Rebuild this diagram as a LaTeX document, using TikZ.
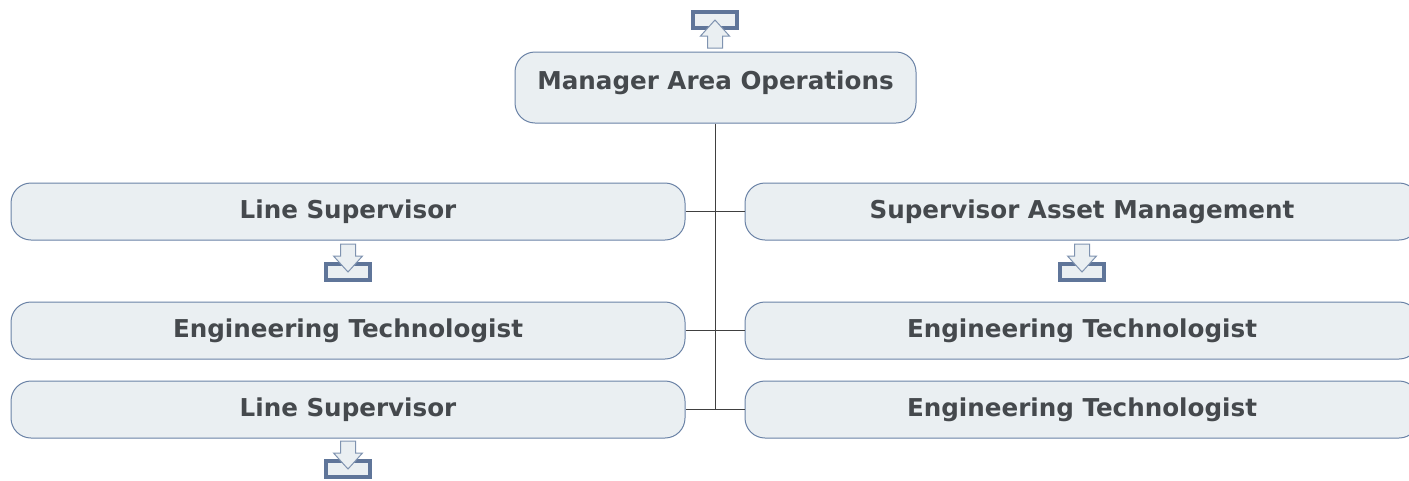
\documentclass[tikz,border=0pt]{standalone}
\usepackage{fontspec}
\setmainfont{DejaVu Sans}
\usepackage{tikz}
\usetikzlibrary{positioning}

\definecolor{boxfill}{HTML}{EAEFF2}
\definecolor{boxline}{HTML}{6A82A6}
\definecolor{txtgrey}{HTML}{45494D}
\definecolor{trayline}{HTML}{5F7599}
\definecolor{arrline}{HTML}{7F93B0}

\tikzset{
  orgbox/.style={draw=boxline, fill=boxfill, line width=1pt, rounded corners=20pt,
                 minimum width=674pt, minimum height=57pt, inner sep=0pt,
                 text=txtgrey, font=\fontsize{24.6}{28}\selectfont\bfseries},
  link/.style={draw=black!75, line width=1pt},
  trayicon/.pic={
    \draw[trayline, fill=boxfill, line width=4pt] (-22,2) rectangle (22,18);
    \draw[arrline, fill=boxfill, line width=1pt, line join=miter]
      (-7.5,-18) -- (7.5,-18) -- (7.5,-6) -- (14.5,-6) -- (0,10)
      -- (-14.5,-6) -- (-7.5,-6) -- cycle;
  }
}

\begin{document}
\begin{tikzpicture}[x=1pt, y=-1pt]
  \useasboundingbox (0,0) rectangle (1409,480);
  \clip (0,0) rectangle (1409,480);

  % boxes
  \node[orgbox, minimum width=401pt, minimum height=71pt] (mgr) at (715.5,87.5) {};
  \node[text=txtgrey, font=\fontsize{24.6}{28}\selectfont\bfseries] (mgrtext)
       at ([yshift=5pt]mgr.center) {Manager Area Operations};

  \node[orgbox] (ls1) at (348,211.5) {Line Supervisor};
  \node[orgbox] (et1) at (348,330.5) {Engineering Technologist};
  \node[orgbox] (ls2) at (348,409.5) {Line Supervisor};
  \node[orgbox] (sam) at (1082,211.5) {Supervisor Asset Management};
  \node[orgbox] (et2) at (1082,330.5) {Engineering Technologist};
  \node[orgbox] (et3) at (1082,409.5) {Engineering Technologist};

  % connectors
  \draw[link] (mgr.south) -- (mgr.south |- ls2.east);
  \draw[link] (ls1.east) -- (sam.west)
              (et1.east) -- (et2.west)
              (ls2.east) -- (et3.west);

  % icons
  \pic[yscale=-1] at (715,30) {trayicon};
  \pic at (348,262) {trayicon};
  \pic at (1082,262) {trayicon};
  \pic at (348,459) {trayicon};
\end{tikzpicture}
\end{document}
